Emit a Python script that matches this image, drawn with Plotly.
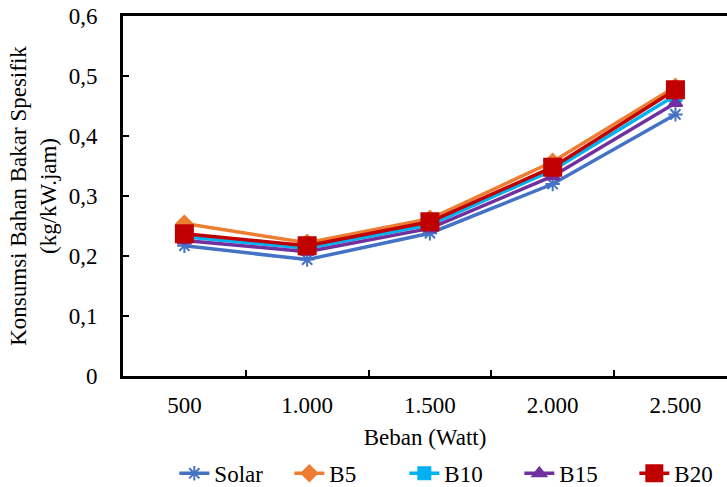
import plotly.graph_objects as go

categories = ["500", "1.000", "1.500", "2.000", "2.500"]
solar = [0.217, 0.194, 0.238, 0.320, 0.436]
b5 = [0.254, 0.222, 0.262, 0.357, 0.482]
b10 = [0.232, 0.213, 0.252, 0.343, 0.468]
b15 = [0.226, 0.207, 0.246, 0.333, 0.455]
b20 = [0.237, 0.217, 0.257, 0.348, 0.477]
ytick_vals = [0, 0.1, 0.2, 0.3, 0.4, 0.5, 0.6]
ytick_text = ["0", "0,1", "0,2", "0,3", "0,4", "0,5", "0,6"]

series = [
    ("Solar", solar, "#4472C4", "asterisk-open", 12),
    ("B5", b5, "#ED7D31", "diamond", 12),
    ("B10", b10, "#00B0F0", "square", 12),
    ("B15", b15, "#7030A0", "triangle-up", 12),
    ("B20", b20, "#C00000", "square", 17),
]

fig = go.Figure()
for name, vals, color, sym, size in series:
    fig.add_trace(go.Scatter(
        x=categories, y=vals, name=name, mode="lines+markers",
        line=dict(color=color, width=3.5),
        marker=dict(symbol=sym, size=size, color=color,
                    line=dict(color=color, width=2)),
    ))

font = "Liberation Serif"
fs = 23
fig.update_layout(
    width=727, height=487,
    margin=dict(l=123, r=0, t=16, b=111, autoexpand=False),
    paper_bgcolor="white", plot_bgcolor="white",
    font=dict(family=font, size=fs, color="black"),
    showlegend=True,
    legend=dict(orientation="h", x=0.085, xanchor="left",
                yref="container", y=0.028, yanchor="middle",
                entrywidth=70, entrywidthmode="pixels",
                font=dict(family=font, size=fs), tracegroupgap=0),
    xaxis=dict(type="category", range=[-0.5, 4.42], showgrid=False, automargin=False,
               showline=True, linecolor="black", linewidth=3, mirror=True,
               ticks="inside", ticklen=6, tickwidth=2, tickcolor="black",
               tickson="boundaries", ticklabelstandoff=6,
               tickfont=dict(family=font, size=fs),
               title=dict(text="Beban (Watt)", font=dict(family=font, size=fs), standoff=13)),
    yaxis=dict(range=[0, 0.6], showgrid=False, zeroline=False, automargin=False,
               showline=True, linecolor="black", linewidth=3,
               ticks="inside", ticklen=6, tickwidth=2, tickcolor="black",
               tickvals=ytick_vals, ticktext=ytick_text, ticklabelstandoff=18,
               tickfont=dict(family=font, size=fs),
               title=dict(text="Konsumsi Bahan Bakar Spesifik<br>(kg/kW.jam)",
                          font=dict(family=font, size=fs), standoff=6)),
)

fig.write_html("out.html")
